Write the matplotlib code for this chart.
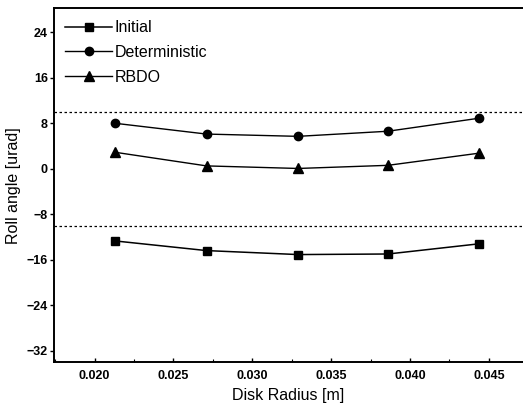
import matplotlib.pyplot as plt
from matplotlib.ticker import MultipleLocator

plt.rcParams['font.family'] = ['Liberation Sans', 'DejaVu Sans']

# disk radius [m]
radius = [0.0213, 0.0271, 0.0329, 0.0386, 0.0444]

# roll angle [urad]
initial = [-12.7, -14.4, -15.1, -15.0, -13.2]
deterministic = [8.0, 6.1, 5.7, 6.6, 8.9]
rbdo = [2.9, 0.5, 0.05, 0.6, 2.75]

limit = 10

fig = plt.figure(figsize=(5.23, 4.07), dpi=100)
ax = fig.add_axes([0.1023, 0.1106, 0.8977, 0.8686])

ax.plot(radius, initial, '-', color='black', marker='s', ms=5.5, lw=1.1, label='Initial')
ax.plot(radius, deterministic, '-', color='black', marker='o', ms=6, lw=1.0, label='Deterministic')
ax.plot(radius, rbdo, '-', color='black', marker='^', ms=6.5, lw=1.0, label='RBDO')

ax.axhline(limit, color='black', ls=(0, (2, 2)), lw=0.9)
ax.axhline(-limit, color='black', ls=(0, (2, 2)), lw=0.9)

ax.set_xlim(0.0174, 0.04716)
ax.set_ylim(-34, 28.2)
ax.set_xticks([0.020, 0.025, 0.030, 0.035, 0.040, 0.045])
ax.set_xticklabels(['0.020', '0.025', '0.030', '0.035', '0.040', '0.045'])
ax.set_yticks([24, 16, 8, 0, -8, -16, -24, -32])
ax.xaxis.set_minor_locator(MultipleLocator(0.0025))

for lab in ax.get_xticklabels() + ax.get_yticklabels():
    lab.set_fontweight('bold')
    lab.set_fontsize(9)

ax.tick_params(axis='y', direction='out', length=3, width=1, pad=1)
ax.tick_params(axis='x', direction='in', length=3, width=1, pad=6)
ax.tick_params(axis='x', which='minor', direction='in', length=2, width=0.8)

ax.spines['right'].set_visible(False)
for s in ['left', 'bottom', 'top']:
    ax.spines[s].set_linewidth(1.4)

ax.set_xlabel('Disk Radius [m]', fontsize=11.5)
ax.set_ylabel('Roll angle [urad]', fontsize=11.5, labelpad=4)

ax.legend(loc='upper left', frameon=False, fontsize=11.5, handlelength=2.9,
          handletextpad=0.2, labelspacing=0.6, borderaxespad=0.3, borderpad=0.45)

fig.savefig('out.png', dpi=100)
